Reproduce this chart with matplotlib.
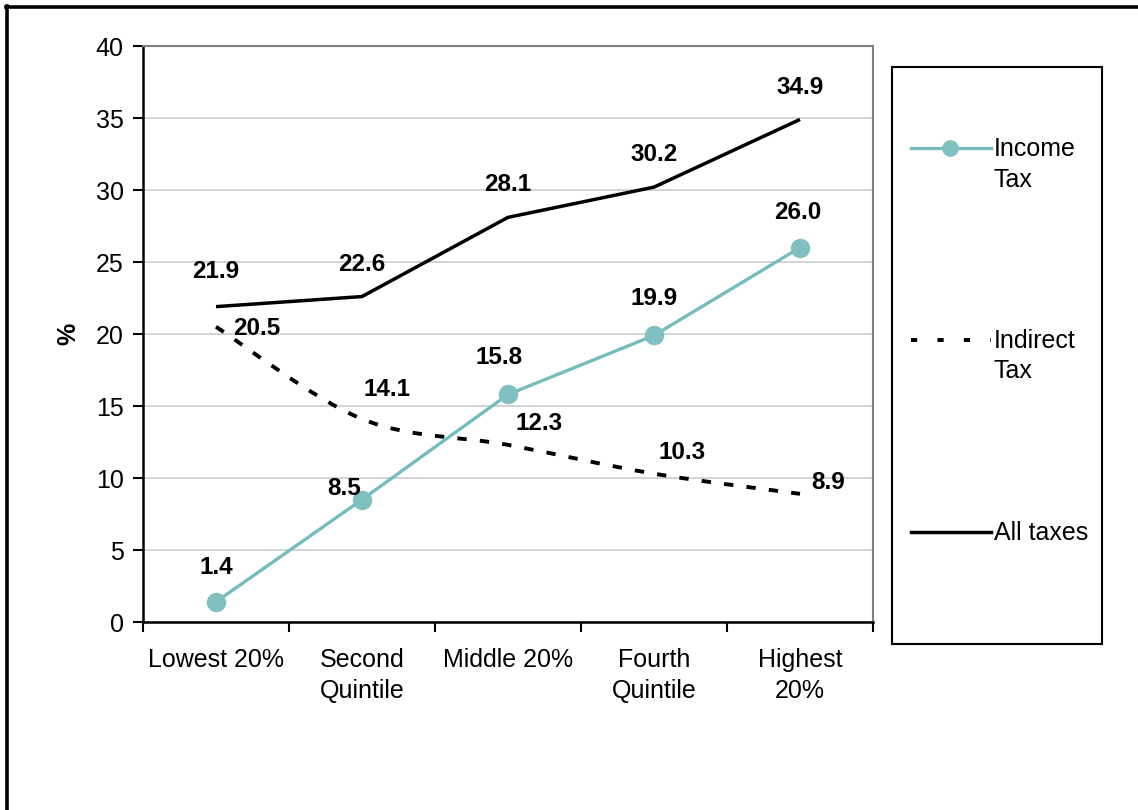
import matplotlib
matplotlib.use("Agg")
import matplotlib.pyplot as plt
from matplotlib.path import Path
from matplotlib.patches import PathPatch
from matplotlib.lines import Line2D
import numpy as np

plt.rcParams['font.family'] = ['Liberation Sans', 'DejaVu Sans']

categories = ["Lowest 20%", "Second\nQuintile", "Middle 20%", "Fourth\nQuintile", "Highest\n20%"]
income_tax = [1.4, 8.5, 15.8, 19.9, 26.0]
indirect_tax = [20.5, 14.1, 12.3, 10.3, 8.9]
all_taxes = [21.9, 22.6, 28.1, 30.2, 34.9]

TEAL = "#76bcbc"
TEAL_MARK = "#80c0c0"
FS = 18
LFS = 17.5

W, H = 1138, 810
fig = plt.figure(figsize=(W / 100, H / 100), dpi=100)


def fx(px):
    return px / W


def fy(py):
    return 1 - py / H


ax = fig.add_axes([fx(143), fy(622), fx(873) - fx(143), fy(46) - fy(622)])
x = np.arange(len(categories))

# Income tax: straight line with round markers
ax.plot(x, income_tax, color=TEAL, lw=2.4, marker='o', markersize=13,
        markerfacecolor=TEAL_MARK, markeredgecolor=TEAL_MARK, zorder=4)

# All taxes: solid black line
ax.plot(x, all_taxes, color='black', lw=2.5, zorder=3, solid_capstyle='butt')

# Indirect tax: smoothed dashed curve (Catmull-Rom through the points)
pts = np.column_stack([x, indirect_tax]).astype(float)
verts = [tuple(pts[0])]
codes = [Path.MOVETO]
n = len(pts)
for i in range(n - 1):
    p0 = pts[max(i - 1, 0)]
    p1 = pts[i]
    p2 = pts[i + 1]
    p3 = pts[min(i + 2, n - 1)]
    c1 = p1 + (p2 - p0) / 6.0
    c2 = p2 - (p3 - p1) / 6.0
    verts += [tuple(c1), tuple(c2), tuple(p2)]
    codes += [Path.CURVE4] * 3
curve = PathPatch(Path(verts, codes), facecolor='none', edgecolor='black',
                  lw=2.8, linestyle=(0, (2.4, 3.4)), zorder=3)
ax.add_patch(curve)

ax.set_xlim(-0.5, len(categories) - 0.5)
ax.set_ylim(0, 40)
ax.set_yticks(np.arange(0, 41, 5))
ax.set_xticks(np.arange(-0.5, len(categories), 1.0))
ax.set_xticklabels([])
ax.set_xticks(x, minor=True)
ax.set_xticklabels(categories, minor=True, fontsize=FS, linespacing=1.35)
ax.tick_params(axis='x', which='minor', length=0, pad=19)
ax.tick_params(axis='x', which='major', length=7, width=1.5, direction='out', color='black')
ax.tick_params(axis='y', length=7, width=1.5, direction='out', labelsize=FS, pad=7)
ax.grid(axis='y', color='#c8c8c8', lw=1.1)
ax.set_axisbelow(True)
for s in ('top', 'right'):
    ax.spines[s].set_color('#808080')
    ax.spines[s].set_linewidth(1.5)
for s in ('left', 'bottom'):
    ax.spines[s].set_color('black')
    ax.spines[s].set_linewidth(1.8)
ax.set_ylabel('%', fontsize=FS, fontweight='bold', labelpad=11)

lab_kw = dict(textcoords='offset pixels', ha='center', va='center',
              fontsize=LFS, fontweight='bold', zorder=6)
income_off = [(0, 34), (-18, 11), (-9, 37), (0, 37), (-2, 35)]
all_off = [(0, 35), (0, 32), (0, 33), (0, 33), (0, 32)]
indirect_off = [(41, -2), (25, 29), (31, 21), (28, 21), (28, 11)]
for xi, v, o in zip(x, income_tax, income_off):
    ax.annotate(f"{v:.1f}", (xi, v), xytext=o, **lab_kw)
for xi, v, o in zip(x, all_taxes, all_off):
    ax.annotate(f"{v:.1f}", (xi, v), xytext=o, **lab_kw)
for xi, v, o in zip(x, indirect_tax, indirect_off):
    ax.annotate(f"{v:.1f}", (xi, v), xytext=o, **lab_kw)

# Legend panel
lg = fig.add_axes([fx(892), fy(644), fx(1102) - fx(892), fy(67) - fy(644)])
lg.set_xlim(892, 1102)
lg.set_ylim(644, 67)
lg.set_xticks([])
lg.set_yticks([])
for s in lg.spines.values():
    s.set_color('black')
    s.set_linewidth(1.5)
lg.plot([911, 991], [148, 148], color=TEAL, lw=2.4)
lg.plot([950], [148], marker='o', markersize=11, color=TEAL_MARK)
lg.text(994, 149, "Income", fontsize=FS, va='center', ha='left')
lg.text(994, 180, "Tax", fontsize=FS, va='center', ha='left')
lg.plot([911, 991], [340, 340], color='black', lw=2.8, linestyle=(0, (1.6, 5.2)))
lg.text(994, 341, "Indirect", fontsize=FS, va='center', ha='left')
lg.text(994, 371, "Tax", fontsize=FS, va='center', ha='left')
lg.plot([911, 991], [532, 532], color='black', lw=2.5)
lg.text(994, 533, "All taxes", fontsize=FS, va='center', ha='left')

# Outer frame (left and top edges)
fig.add_artist(Line2D([fx(7), fx(7)], [fy(6), fy(H + 10)], color='black', lw=2.6,
                      transform=fig.transFigure))
fig.add_artist(Line2D([fx(6), fx(W + 10)], [fy(7), fy(7)], color='black', lw=2.6,
                      transform=fig.transFigure))

fig.savefig("out.png", dpi=100)
